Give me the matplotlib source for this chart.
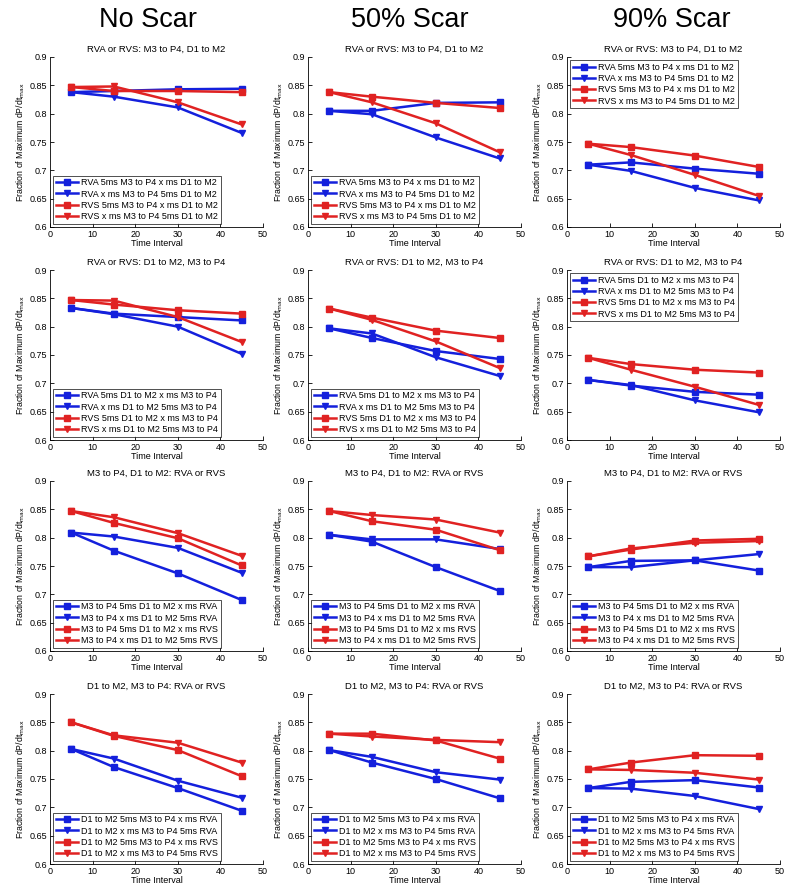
import matplotlib
matplotlib.use("Agg")
import matplotlib.pyplot as plt
from matplotlib.ticker import FuncFormatter

plt.rcParams['font.family'] = ['Liberation Sans', 'DejaVu Sans']

time_interval = [5, 15, 30, 45]
column_titles = ["No Scar", "50% Scar", "90% Scar"]
row_titles = [
    "RVA or RVS: M3 to P4, D1 to M2",
    "RVA or RVS: D1 to M2, M3 to P4",
    "M3 to P4, D1 to M2: RVA or RVS",
    "D1 to M2, M3 to P4: RVA or RVS",
]
legend_labels = [
    ["RVA 5ms M3 to P4 x ms D1 to M2", "RVA x ms M3 to P4 5ms D1 to M2",
     "RVS 5ms M3 to P4 x ms D1 to M2", "RVS x ms M3 to P4 5ms D1 to M2"],
    ["RVA 5ms D1 to M2 x ms M3 to P4", "RVA x ms D1 to M2 5ms M3 to P4",
     "RVS 5ms D1 to M2 x ms M3 to P4", "RVS x ms D1 to M2 5ms M3 to P4"],
    ["M3 to P4 5ms D1 to M2 x ms RVA", "M3 to P4 x ms D1 to M2 5ms RVA",
     "M3 to P4 5ms D1 to M2 x ms RVS", "M3 to P4 x ms D1 to M2 5ms RVS"],
    ["D1 to M2 5ms M3 to P4 x ms RVA", "D1 to M2 x ms M3 to P4 5ms RVA",
     "D1 to M2 5ms M3 to P4 x ms RVS", "D1 to M2 x ms M3 to P4 5ms RVS"],
]

# values[row][col] = [blue square, blue triangle, red square, red triangle]
row1_noscar = [[0.838, 0.840, 0.843, 0.844], [0.838, 0.830, 0.811, 0.766],
               [0.847, 0.840, 0.840, 0.838], [0.847, 0.848, 0.820, 0.781]]
row1_scar50 = [[0.805, 0.805, 0.819, 0.820], [0.805, 0.799, 0.758, 0.721],
               [0.838, 0.830, 0.819, 0.810], [0.838, 0.820, 0.783, 0.732]]
row1_scar90 = [[0.710, 0.714, 0.703, 0.694], [0.710, 0.699, 0.669, 0.647],
               [0.747, 0.741, 0.726, 0.706], [0.747, 0.727, 0.692, 0.655]]

row2_noscar = [[0.833, 0.823, 0.817, 0.811], [0.833, 0.822, 0.800, 0.752],
               [0.847, 0.839, 0.829, 0.823], [0.847, 0.846, 0.817, 0.773]]
row2_scar50 = [[0.797, 0.780, 0.757, 0.743], [0.797, 0.788, 0.746, 0.713],
               [0.832, 0.816, 0.793, 0.780], [0.832, 0.812, 0.774, 0.727]]
row2_scar90 = [[0.706, 0.696, 0.685, 0.680], [0.706, 0.697, 0.670, 0.649],
               [0.745, 0.734, 0.724, 0.719], [0.745, 0.724, 0.694, 0.662]]

row3_noscar = [[0.809, 0.777, 0.737, 0.690], [0.809, 0.802, 0.782, 0.738],
               [0.847, 0.826, 0.799, 0.751], [0.847, 0.836, 0.808, 0.768]]
row3_scar50 = [[0.805, 0.793, 0.748, 0.706], [0.805, 0.797, 0.797, 0.780],
               [0.847, 0.829, 0.814, 0.778], [0.847, 0.840, 0.832, 0.809]]
row3_scar90 = [[0.748, 0.759, 0.760, 0.742], [0.748, 0.748, 0.760, 0.771],
               [0.767, 0.779, 0.795, 0.798], [0.767, 0.781, 0.791, 0.794]]

row4_noscar = [[0.803, 0.771, 0.734, 0.694], [0.803, 0.786, 0.747, 0.717],
               [0.850, 0.826, 0.801, 0.755], [0.850, 0.827, 0.814, 0.779]]
row4_scar50 = [[0.801, 0.779, 0.750, 0.716], [0.801, 0.789, 0.762, 0.749],
               [0.830, 0.830, 0.818, 0.786], [0.830, 0.825, 0.819, 0.815]]
row4_scar90 = [[0.734, 0.745, 0.748, 0.735], [0.734, 0.733, 0.720, 0.697],
               [0.767, 0.779, 0.792, 0.791], [0.767, 0.766, 0.761, 0.749]]

values = [
    [row1_noscar, row1_scar50, row1_scar90],
    [row2_noscar, row2_scar50, row2_scar90],
    [row3_noscar, row3_scar50, row3_scar90],
    [row4_noscar, row4_scar50, row4_scar90],
]

colors = ['#1420dc', '#1420dc', '#e02222', '#e02222']
markers = ['s', 'v', 's', 'v']

W, H = 800, 892
fig = plt.figure(figsize=(W / 100, H / 100), dpi=100)

col_left = [50, 308, 567]
col_width = 213
row_top = [57, 270, 481, 694]
row_height = 170
header_x = [148, 410, 672]

legend_upper = {(0, 2), (1, 2)}

for r in range(4):
    for c in range(3):
        ax = fig.add_axes([col_left[c] / W, 1 - (row_top[r] + row_height) / H,
                           col_width / W, row_height / H])
        for s in range(4):
            ax.plot(time_interval, values[r][c][s], color=colors[s],
                    marker=markers[s], markersize=4.5, linewidth=1.8,
                    label=legend_labels[r][s])
        ax.set_xlim(0, 50)
        ax.set_ylim(0.6, 0.9)
        ax.set_xticks([0, 10, 20, 30, 40, 50])
        ax.set_yticks([0.6, 0.65, 0.7, 0.75, 0.8, 0.85, 0.9])
        ax.yaxis.set_major_formatter(FuncFormatter(lambda v, p: f"{v:g}"))
        ax.tick_params(direction='in', labelsize=6.5, length=3, width=0.6, pad=2)
        for sp in ['top', 'right']:
            ax.spines[sp].set_visible(False)
        for sp in ['left', 'bottom']:
            ax.spines[sp].set_linewidth(0.6)
        ax.set_title(row_titles[r], fontsize=6.8, pad=4)
        ax.set_xlabel("Time Interval", fontsize=6.5, labelpad=0)
        ax.set_ylabel(r"Fraction of Maximum dP/dt$_{\mathrm{max}}$", fontsize=6.3, labelpad=2)
        loc = 'upper left' if (r, c) in legend_upper else 'lower left'
        leg = ax.legend(loc=loc, fontsize=6.5, frameon=True, fancybox=False,
                        edgecolor='black', borderaxespad=0.35, handlelength=2.5,
                        handletextpad=0.3, labelspacing=0.25, borderpad=0.3)
        leg.get_frame().set_linewidth(0.6)

for c in range(3):
    fig.text(header_x[c] / W, 1 - 20 / H, column_titles[c], ha='center',
             va='center', fontsize=19.5)

fig.savefig("out.png", dpi=100)
